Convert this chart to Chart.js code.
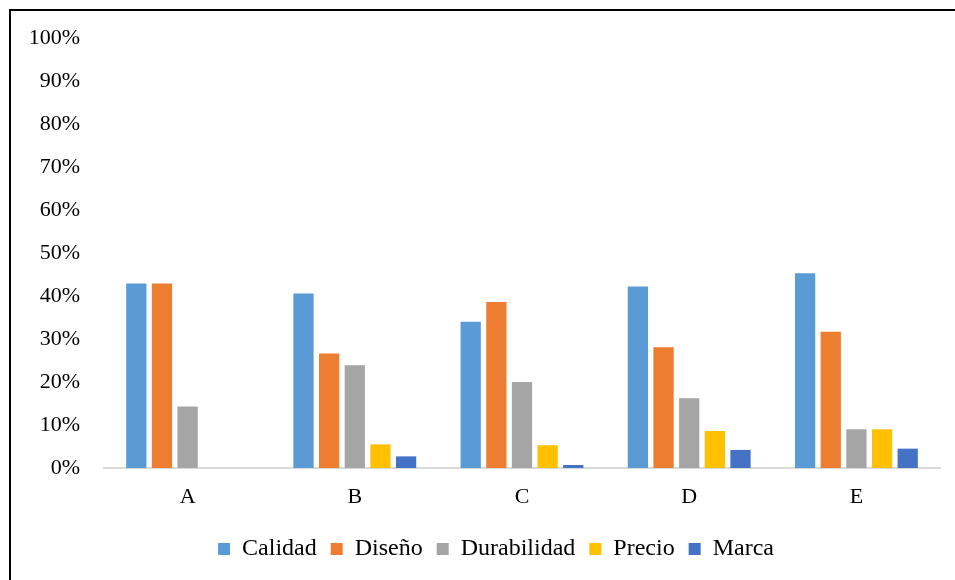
<!DOCTYPE html>
<html>
<head>
<meta charset="utf-8">
<script src="https://cdn.jsdelivr.net/npm/chart.js@4.4.1/dist/chart.umd.min.js"></script>
<style>
	html, body { margin: 0; padding: 0; background: #fff; }
	#wrap { position: relative; width: 955px; height: 580px; }
	#frame {
		position: absolute; left: 9px; top: 9px; right: 0; bottom: 0;
		border-top: 2px solid #000; border-left: 2px solid #000;
		pointer-events: none;
	}
</style>
</head>
<body>
<div id="wrap">
	<canvas id="chart" width="955" height="580"></canvas>
	<div id="frame"></div>
</div>
<script>
	// categorias y series (en %)
	var categorias = ["A", "B", "C", "D", "E"];
	var calidad = [42.9, 40.6, 34.0, 42.2, 45.3];
	var diseno = [42.9, 26.6, 38.6, 28.1, 31.7];
	var durabilidad = [14.3, 23.9, 20.0, 16.2, 9.0];
	var precio = [0, 5.5, 5.3, 8.6, 9.0];
	var marca = [0, 2.7, 0.7, 4.2, 4.5];

	var nombres = ["Calidad", "Diseño", "Durabilidad", "Precio", "Marca"];
	var colores = ["#5B9BD5", "#ED7D31", "#A5A5A5", "#FFC000", "#4472C4"];
	var series = [calidad, diseno, durabilidad, precio, marca];

	var serif = "'Liberation Serif', 'Times New Roman', serif";
	var fuenteEjes = { family: serif, size: 22 };
	var fuenteLeyenda = { family: serif, size: 24 };

	var datasets = series.map(function (valores, i) {
		return {
			label: nombres[i],
			data: valores,
			backgroundColor: colores[i],
			borderWidth: 0,
			categoryPercentage: 0.767,
			barPercentage: 0.79
		};
	});

	//Mueve la leyenda un poco a la derecha, como en el original
	var moverLeyenda = {
		id: "moverLeyenda",
		afterLayout: function (chart) {
			chart.legend.left += 16;
			chart.legend.right += 16;
		}
	};

	var ctx = document.getElementById("chart");

	var chart = new Chart(ctx, {
		type: "bar",
		data: { labels: categorias, datasets: datasets },
		plugins: [moverLeyenda],
		options: {
			responsive: false,
			animation: false,
			layout: { padding: { left: 20, right: 15, top: 38, bottom: 9 } },
			plugins: {
				tooltip: { enabled: false },
				legend: {
					display: true,
					position: "bottom",
					labels: {
						font: fuenteLeyenda,
						color: "#000",
						boxWidth: 12,
						boxHeight: 12,
						padding: 14
					}
				}
			},
			scales: {
				x: {
					grid: { display: false, drawTicks: false },
					border: { display: true, color: "#d9d9d9", width: 2 },
					ticks: { font: fuenteEjes, color: "#000", padding: 16 },
					afterFit: function (scale) { scale.height = 55; }
				},
				y: {
					min: 0,
					max: 100,
					grid: { display: false, drawTicks: false },
					border: { display: false },
					ticks: {
						stepSize: 10,
						font: fuenteEjes,
						color: "#000",
						padding: 24,
						callback: function (v) { return v + "%"; }
					},
					afterFit: function (scale) { scale.width = 84; }
				}
			}
		}
	});
</script>
</body>
</html>
